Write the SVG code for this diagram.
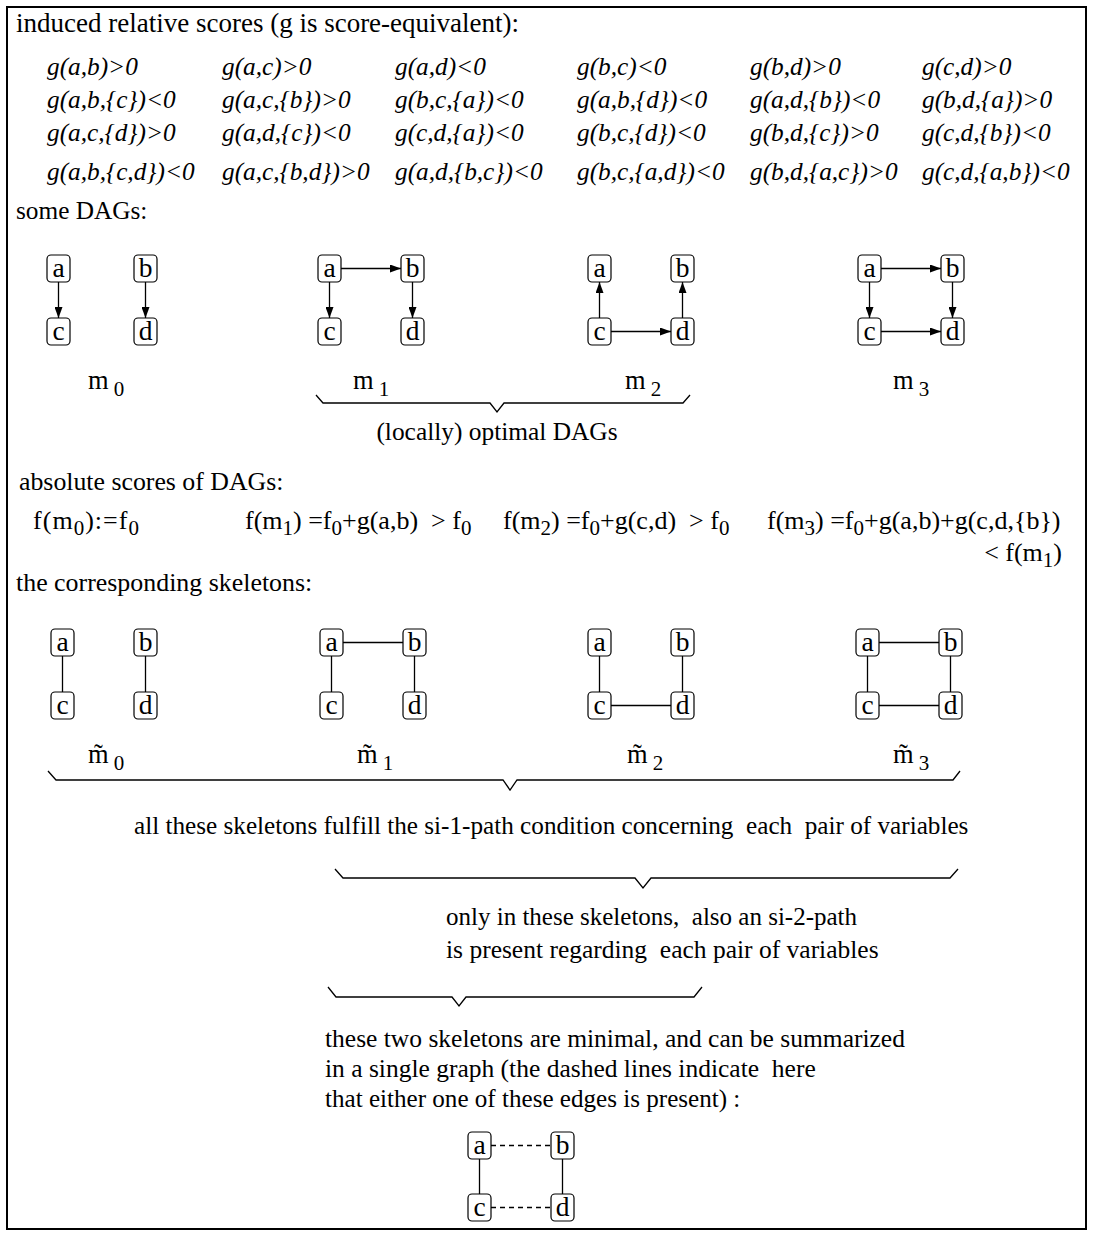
<svg xmlns="http://www.w3.org/2000/svg" width="1093" height="1236" viewBox="0 0 1093 1236">
<style>
text{font-family:"Liberation Serif","Times New Roman",serif;font-size:25.5px;fill:#000}
.hd{font-size:27px}
.it{font-style:italic;font-size:25.3px}
.sc{font-size:26px}
.nd rect{fill:#fff;stroke:#000;stroke-width:1.2}
.nd text{text-anchor:middle;font-size:27.5px}
.e{stroke:#000;stroke-width:1.3;fill:none}
.ea{stroke:#000;stroke-width:1.3;fill:none;marker-end:url(#ah)}
.ds{stroke:#000;stroke-width:1.3;fill:none;stroke-dasharray:5 4}
.br{stroke:#000;stroke-width:1.3;fill:none}
.sub{font-size:21px}
.lb{font-size:26.5px}
</style>
<defs>
<marker id="ah" markerUnits="userSpaceOnUse" markerWidth="11" markerHeight="8" refX="11" refY="4" orient="auto"><path d="M0,0 L11,4 L0,8 z" fill="#000"/></marker>
</defs>
<rect x="7" y="7" width="1079" height="1222" fill="#fff" stroke="#000" stroke-width="2"/>

<g id="texts">
<text x="16" y="32" class="hd">induced relative scores (g is score-equivalent):</text>
<g>
<text x="47" y="75" class="it">g(a,b)&gt;0</text>
<text x="222" y="75" class="it">g(a,c)&gt;0</text>
<text x="395" y="75" class="it">g(a,d)&lt;0</text>
<text x="577" y="75" class="it">g(b,c)&lt;0</text>
<text x="750" y="75" class="it">g(b,d)&gt;0</text>
<text x="922" y="75" class="it">g(c,d)&gt;0</text>
<text x="47" y="108" class="it">g(a,b,{c})&lt;0</text>
<text x="222" y="108" class="it">g(a,c,{b})&gt;0</text>
<text x="395" y="108" class="it">g(b,c,{a})&lt;0</text>
<text x="577" y="108" class="it">g(a,b,{d})&lt;0</text>
<text x="750" y="108" class="it">g(a,d,{b})&lt;0</text>
<text x="922" y="108" class="it">g(b,d,{a})&gt;0</text>
<text x="47" y="141" class="it">g(a,c,{d})&gt;0</text>
<text x="222" y="141" class="it">g(a,d,{c})&lt;0</text>
<text x="395" y="141" class="it">g(c,d,{a})&lt;0</text>
<text x="577" y="141" class="it">g(b,c,{d})&lt;0</text>
<text x="750" y="141" class="it">g(b,d,{c})&gt;0</text>
<text x="922" y="141" class="it">g(c,d,{b})&lt;0</text>
<text x="47" y="180" class="it">g(a,b,{c,d})&lt;0</text>
<text x="222" y="180" class="it">g(a,c,{b,d})&gt;0</text>
<text x="395" y="180" class="it">g(a,d,{b,c})&lt;0</text>
<text x="577" y="180" class="it">g(b,c,{a,d})&lt;0</text>
<text x="750" y="180" class="it">g(b,d,{a,c})&gt;0</text>
<text x="922" y="180" class="it">g(c,d,{a,b})&lt;0</text>
</g>
<text x="16" y="219" style="font-size:25.3px">some DAGs:</text>
<text x="88" y="389" class="lb">m<tspan class="sub" dx="5" dy="7">0</tspan></text>
<text x="353" y="389" class="lb">m<tspan class="sub" dx="5" dy="7">1</tspan></text>
<text x="625" y="389" class="lb">m<tspan class="sub" dx="5" dy="7">2</tspan></text>
<text x="893" y="389" class="lb">m<tspan class="sub" dx="5" dy="7">3</tspan></text>
<text x="497" y="440" text-anchor="middle" style="font-size:25.4px">(locally) optimal DAGs</text>
<text x="19" y="490" style="font-size:25.8px">absolute scores of DAGs:</text>
<text x="33" y="529" class="sc" xml:space="preserve" textLength="106" lengthAdjust="spacing">f(m<tspan class="sub" dy="6">0</tspan><tspan dy="-6">):=f</tspan><tspan class="sub" dy="6">0</tspan></text>
<text x="245" y="529" class="sc" xml:space="preserve">f(m<tspan class="sub" dy="6">1</tspan><tspan dy="-6">) =f</tspan><tspan class="sub" dy="6">0</tspan><tspan dy="-6">+g(a,b)  &gt; f</tspan><tspan class="sub" dy="6">0</tspan></text>
<text x="503" y="529" class="sc" xml:space="preserve">f(m<tspan class="sub" dy="6">2</tspan><tspan dy="-6">) =f</tspan><tspan class="sub" dy="6">0</tspan><tspan dy="-6">+g(c,d)  &gt; f</tspan><tspan class="sub" dy="6">0</tspan></text>
<text x="767" y="529" class="sc" xml:space="preserve">f(m<tspan class="sub" dy="6">3</tspan><tspan dy="-6">) =f</tspan><tspan class="sub" dy="6">0</tspan><tspan dy="-6">+g(a,b)+g(c,d,{b})</tspan></text>
<text x="1062" y="561" class="sc" text-anchor="end" xml:space="preserve">&lt; f(m<tspan class="sub" dy="6">1</tspan><tspan dy="-6">)</tspan></text>
<text x="16" y="591" style="font-size:25.9px">the corresponding skeletons:</text>
<text x="88" y="763" class="lb">m&#771;<tspan class="sub" dx="5" dy="7">0</tspan></text>
<text x="357" y="763" class="lb">m&#771;<tspan class="sub" dx="5" dy="7">1</tspan></text>
<text x="627" y="763" class="lb">m&#771;<tspan class="sub" dx="5" dy="7">2</tspan></text>
<text x="893" y="763" class="lb">m&#771;<tspan class="sub" dx="5" dy="7">3</tspan></text>
<text x="134" y="834" xml:space="preserve" style="font-size:25.2px">all these skeletons fulfill the si-1-path condition concerning  each  pair of variables</text>
<text x="446" y="925" xml:space="preserve" style="font-size:25px">only in these skeletons,  also an si-2-path</text>
<text x="446" y="958" xml:space="preserve">is present regarding  each pair of variables</text>
<text x="325" y="1047" xml:space="preserve">these two skeletons are minimal, and can be summarized</text>
<text x="325" y="1077" xml:space="preserve">in a single graph (the dashed lines indicate  here</text>
<text x="325" y="1107" xml:space="preserve" style="font-size:25.1px">that either one of these edges is present) :</text>
</g>

<g id="braces">
<path class="br" d="M316,395 L323,403 L490,403 L497,412 L504,403 L683,403 L690,395"/>
<path class="br" d="M48,771 L56,780 L503,780 L510,790 L517,780 L953,780 L960,771"/>
<path class="br" d="M335,869 L343,878 L635,878 L643,888 L651,878 L950,878 L958,869"/>
<path class="br" d="M328,987 L336,997 L452,997 L459,1006 L466,997 L694,997 L702,987"/>
</g>

<g id="connectors">
<line class="ea" x1="58.5" y1="282" x2="58.5" y2="318"/>
<line class="ea" x1="145.5" y1="282" x2="145.5" y2="318"/>
<line class="ea" x1="341" y1="268.5" x2="401" y2="268.5"/>
<line class="ea" x1="329.5" y1="282" x2="329.5" y2="318"/>
<line class="ea" x1="412.5" y1="282" x2="412.5" y2="318"/>
<line class="ea" x1="599.5" y1="318" x2="599.5" y2="282"/>
<line class="ea" x1="682.5" y1="318" x2="682.5" y2="282"/>
<line class="ea" x1="611" y1="331.5" x2="671" y2="331.5"/>
<line class="ea" x1="881" y1="268.5" x2="941" y2="268.5"/>
<line class="ea" x1="869.5" y1="282" x2="869.5" y2="318"/>
<line class="ea" x1="952.5" y1="282" x2="952.5" y2="318"/>
<line class="ea" x1="881" y1="331.5" x2="941" y2="331.5"/>
<line class="e" x1="62.5" y1="656" x2="62.5" y2="692"/>
<line class="e" x1="145.5" y1="656" x2="145.5" y2="692"/>
<line class="e" x1="343" y1="642.5" x2="403" y2="642.5"/>
<line class="e" x1="331.5" y1="656" x2="331.5" y2="692"/>
<line class="e" x1="414.5" y1="656" x2="414.5" y2="692"/>
<line class="e" x1="599.5" y1="656" x2="599.5" y2="692"/>
<line class="e" x1="682.5" y1="656" x2="682.5" y2="692"/>
<line class="e" x1="611" y1="705.5" x2="671" y2="705.5"/>
<line class="e" x1="879" y1="642.5" x2="939" y2="642.5"/>
<line class="e" x1="867.5" y1="656" x2="867.5" y2="692"/>
<line class="e" x1="950.5" y1="656" x2="950.5" y2="692"/>
<line class="e" x1="879" y1="705.5" x2="939" y2="705.5"/>
<line class="ds" x1="491" y1="1145.5" x2="551" y2="1145.5"/>
<line class="ds" x1="491" y1="1207.5" x2="551" y2="1207.5"/>
<line class="e" x1="479.5" y1="1159" x2="479.5" y2="1194"/>
<line class="e" x1="562.5" y1="1159" x2="562.5" y2="1194"/>
</g>

<g id="m0-a" class="nd"><rect x="47" y="255" width="23" height="27" rx="4"/><text x="58.5" y="277">a</text></g>
<g id="m0-b" class="nd"><rect x="134" y="255" width="23" height="27" rx="4"/><text x="145.5" y="277">b</text></g>
<g id="m0-c" class="nd"><rect x="47" y="318" width="23" height="27" rx="4"/><text x="58.5" y="340">c</text></g>
<g id="m0-d" class="nd"><rect x="134" y="318" width="23" height="27" rx="4"/><text x="145.5" y="340">d</text></g>

<g id="m1-a" class="nd"><rect x="318" y="255" width="23" height="27" rx="4"/><text x="329.5" y="277">a</text></g>
<g id="m1-b" class="nd"><rect x="401" y="255" width="23" height="27" rx="4"/><text x="412.5" y="277">b</text></g>
<g id="m1-c" class="nd"><rect x="318" y="318" width="23" height="27" rx="4"/><text x="329.5" y="340">c</text></g>
<g id="m1-d" class="nd"><rect x="401" y="318" width="23" height="27" rx="4"/><text x="412.5" y="340">d</text></g>

<g id="m2-a" class="nd"><rect x="588" y="255" width="23" height="27" rx="4"/><text x="599.5" y="277">a</text></g>
<g id="m2-b" class="nd"><rect x="671" y="255" width="23" height="27" rx="4"/><text x="682.5" y="277">b</text></g>
<g id="m2-c" class="nd"><rect x="588" y="318" width="23" height="27" rx="4"/><text x="599.5" y="340">c</text></g>
<g id="m2-d" class="nd"><rect x="671" y="318" width="23" height="27" rx="4"/><text x="682.5" y="340">d</text></g>

<g id="m3-a" class="nd"><rect x="858" y="255" width="23" height="27" rx="4"/><text x="869.5" y="277">a</text></g>
<g id="m3-b" class="nd"><rect x="941" y="255" width="23" height="27" rx="4"/><text x="952.5" y="277">b</text></g>
<g id="m3-c" class="nd"><rect x="858" y="318" width="23" height="27" rx="4"/><text x="869.5" y="340">c</text></g>
<g id="m3-d" class="nd"><rect x="941" y="318" width="23" height="27" rx="4"/><text x="952.5" y="340">d</text></g>

<g id="s0-a" class="nd"><rect x="51" y="629" width="23" height="27" rx="4"/><text x="62.5" y="651">a</text></g>
<g id="s0-b" class="nd"><rect x="134" y="629" width="23" height="27" rx="4"/><text x="145.5" y="651">b</text></g>
<g id="s0-c" class="nd"><rect x="51" y="692" width="23" height="27" rx="4"/><text x="62.5" y="714">c</text></g>
<g id="s0-d" class="nd"><rect x="134" y="692" width="23" height="27" rx="4"/><text x="145.5" y="714">d</text></g>

<g id="s1-a" class="nd"><rect x="320" y="629" width="23" height="27" rx="4"/><text x="331.5" y="651">a</text></g>
<g id="s1-b" class="nd"><rect x="403" y="629" width="23" height="27" rx="4"/><text x="414.5" y="651">b</text></g>
<g id="s1-c" class="nd"><rect x="320" y="692" width="23" height="27" rx="4"/><text x="331.5" y="714">c</text></g>
<g id="s1-d" class="nd"><rect x="403" y="692" width="23" height="27" rx="4"/><text x="414.5" y="714">d</text></g>

<g id="s2-a" class="nd"><rect x="588" y="629" width="23" height="27" rx="4"/><text x="599.5" y="651">a</text></g>
<g id="s2-b" class="nd"><rect x="671" y="629" width="23" height="27" rx="4"/><text x="682.5" y="651">b</text></g>
<g id="s2-c" class="nd"><rect x="588" y="692" width="23" height="27" rx="4"/><text x="599.5" y="714">c</text></g>
<g id="s2-d" class="nd"><rect x="671" y="692" width="23" height="27" rx="4"/><text x="682.5" y="714">d</text></g>

<g id="s3-a" class="nd"><rect x="856" y="629" width="23" height="27" rx="4"/><text x="867.5" y="651">a</text></g>
<g id="s3-b" class="nd"><rect x="939" y="629" width="23" height="27" rx="4"/><text x="950.5" y="651">b</text></g>
<g id="s3-c" class="nd"><rect x="856" y="692" width="23" height="27" rx="4"/><text x="867.5" y="714">c</text></g>
<g id="s3-d" class="nd"><rect x="939" y="692" width="23" height="27" rx="4"/><text x="950.5" y="714">d</text></g>

<g id="sum-a" class="nd"><rect x="468" y="1132" width="23" height="27" rx="4"/><text x="479.5" y="1154">a</text></g>
<g id="sum-b" class="nd"><rect x="551" y="1132" width="23" height="27" rx="4"/><text x="562.5" y="1154">b</text></g>
<g id="sum-c" class="nd"><rect x="468" y="1194" width="23" height="27" rx="4"/><text x="479.5" y="1216">c</text></g>
<g id="sum-d" class="nd"><rect x="551" y="1194" width="23" height="27" rx="4"/><text x="562.5" y="1216">d</text></g>
</svg>
